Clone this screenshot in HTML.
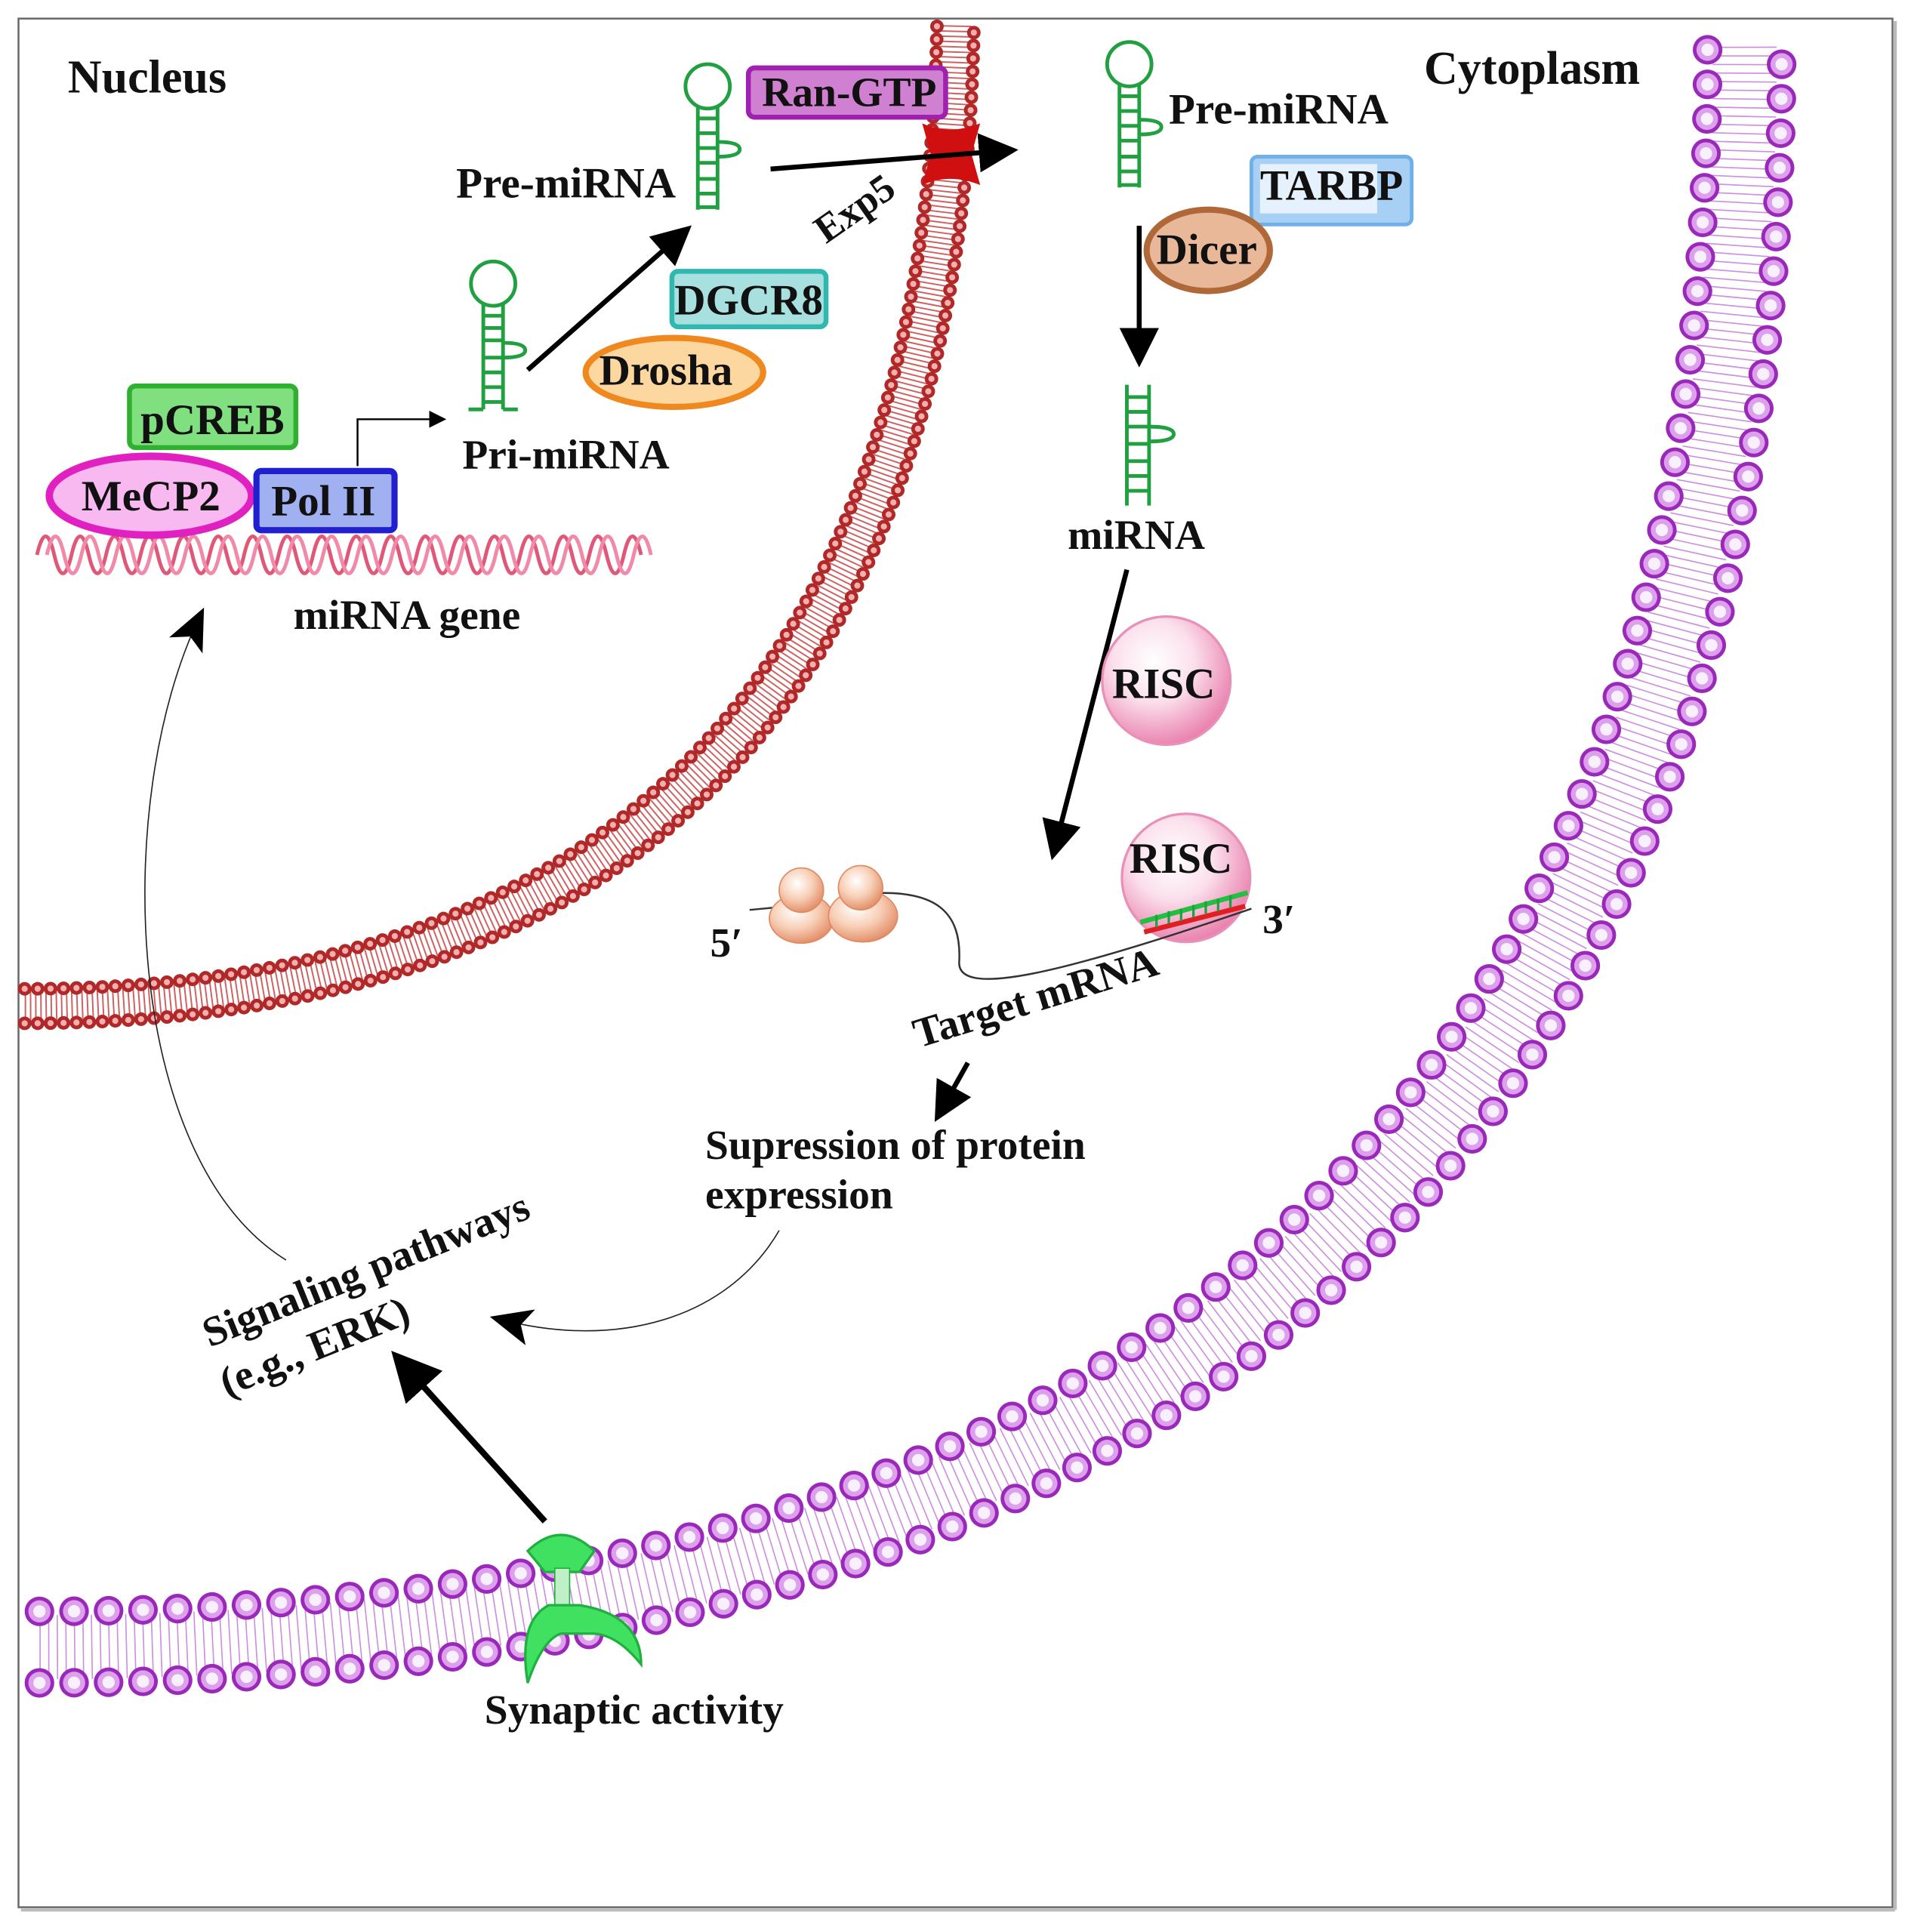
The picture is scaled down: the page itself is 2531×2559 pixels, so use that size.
<!DOCTYPE html>
<html><head><meta charset="utf-8"><style>html,body{margin:0;padding:0;background:#fff}svg{display:block}text{font-family:"Liberation Serif",serif;font-weight:bold;fill:#111}</style></head>
<body>
<svg width="2531" height="2559" viewBox="0 0 1550 1567" xmlns="http://www.w3.org/2000/svg">
<defs>
<marker id="ah" markerWidth="8" markerHeight="8" refX="6" refY="4" orient="auto" markerUnits="strokeWidth"><path d="M0,0 L8,4 L0,8 z" fill="#000"/></marker>
<marker id="ah2" markerWidth="14" markerHeight="14" refX="10" refY="7" orient="auto" markerUnits="userSpaceOnUse"><path d="M0,0 L14,7 L0,14 z" fill="#000"/></marker>
<marker id="ah3" markerWidth="34" markerHeight="30" refX="26" refY="15" orient="auto" markerUnits="userSpaceOnUse"><path d="M0,0 L34,15 L0,30 L8,15 z" fill="#000"/></marker>
<radialGradient id="pink" cx="0.4" cy="0.35" r="0.7"><stop offset="0" stop-color="#fff"/><stop offset="0.45" stop-color="#fbe0ec"/><stop offset="1" stop-color="#e878a8"/></radialGradient>
<radialGradient id="rib" cx="0.4" cy="0.35" r="0.7"><stop offset="0" stop-color="#fff"/><stop offset="0.5" stop-color="#f8d0b8"/><stop offset="1" stop-color="#e08860"/></radialGradient>
</defs>
<rect x="15" y="15" width="1520" height="1532" fill="#fff" stroke="#666" stroke-width="1.5"/>
<line x1="17" y1="1549" x2="1537" y2="1549" stroke="#bbb" stroke-width="3"/>
<line x1="1537" y1="17" x2="1537" y2="1549" stroke="#bbb" stroke-width="3"/>

<!-- nuclear membrane -->
<path d="M20 816 Q760 816 775 20" fill="none" stroke="#d06060" stroke-width="26" stroke-dasharray="1.2 3"/>
<path d="M20 802 Q745 802 760 20" fill="none" stroke="#b02828" stroke-width="11" stroke-linecap="round" stroke-dasharray="0 10.5"/>
<path d="M20 830 Q775 830 790 20" fill="none" stroke="#b02828" stroke-width="11" stroke-linecap="round" stroke-dasharray="0 10.5"/>
<path d="M20 802 Q745 802 760 20" fill="none" stroke="#f4b0b0" stroke-width="5" stroke-linecap="round" stroke-dasharray="0 10.5"/>
<path d="M20 830 Q775 830 790 20" fill="none" stroke="#f4b0b0" stroke-width="5" stroke-linecap="round" stroke-dasharray="0 10.5"/>

<!-- plasma membrane -->
<path d="M32 1336 Q1422 1336 1415 32" fill="none" stroke="#c070d8" stroke-width="52" stroke-dasharray="1 6" opacity="0.8"/>
<path d="M32 1307 Q1390 1307 1385 38" fill="none" stroke="#9a28b8" stroke-width="24" stroke-linecap="round" stroke-dasharray="0 28"/>
<path d="M32 1365 Q1455 1365 1445 28" fill="none" stroke="#9a28b8" stroke-width="24" stroke-linecap="round" stroke-dasharray="0 28"/>
<path d="M32 1307 Q1390 1307 1385 38" fill="none" stroke="#dca0ec" stroke-width="18" stroke-linecap="round" stroke-dasharray="0 28"/>
<path d="M32 1365 Q1455 1365 1445 28" fill="none" stroke="#dca0ec" stroke-width="18" stroke-linecap="round" stroke-dasharray="0 28"/>
<path d="M32 1307 Q1390 1307 1385 38" fill="none" stroke="#f8f0fc" stroke-width="10" stroke-linecap="round" stroke-dasharray="0 28"/>
<path d="M32 1365 Q1455 1365 1445 28" fill="none" stroke="#f8f0fc" stroke-width="10" stroke-linecap="round" stroke-dasharray="0 28"/>

<text x="55" y="75" font-size="38">Nucleus</text>
<text x="1155" y="68" font-size="38">Cytoplasm</text>

<!-- DNA helix -->
<path d="M30 450 q7 -30 14 0 t14 0 t14 0 t14 0 t14 0 t14 0 t14 0 t14 0 t14 0 t14 0 t14 0 t14 0 t14 0 t14 0 t14 0 t14 0 t14 0 t14 0 t14 0 t14 0 t14 0 t14 0 t14 0 t14 0 t14 0 t14 0 t14 0 t14 0 t14 0 t14 0 t14 0 t14 0 t14 0 t14 0 t14 0" fill="none" stroke="#e05878" stroke-width="3"/>
<path d="M38 450 q7 -30 14 0 t14 0 t14 0 t14 0 t14 0 t14 0 t14 0 t14 0 t14 0 t14 0 t14 0 t14 0 t14 0 t14 0 t14 0 t14 0 t14 0 t14 0 t14 0 t14 0 t14 0 t14 0 t14 0 t14 0 t14 0 t14 0 t14 0 t14 0 t14 0 t14 0 t14 0 t14 0 t14 0 t14 0 t14 0" fill="none" stroke="#f08aa8" stroke-width="3"/>
<text x="238" y="510" font-size="34">miRNA gene</text>

<rect x="105" y="313" width="135" height="50" rx="5" fill="#80e080" stroke="#30b030" stroke-width="4"/>
<text x="114" y="352" font-size="35">pCREB</text>
<ellipse cx="122" cy="402" rx="82" ry="32" fill="#f8b8f0" stroke="#e020c0" stroke-width="6"/>
<text x="66" y="414" font-size="35">MeCP2</text>
<rect x="208" y="382" width="112" height="48" rx="4" fill="#a0b0f0" stroke="#2020d0" stroke-width="5"/>
<text x="220" y="418" font-size="35">Pol II</text>
<path d="M290 378 V340 H358" fill="none" stroke="#000" stroke-width="1.5" marker-end="url(#ah2)"/>

<g fill="none" stroke="#20a040" stroke-width="3">
<circle cx="400" cy="230" r="18"/><line x1="392" y1="246" x2="392" y2="332"/><line x1="408" y1="246" x2="408" y2="332"/>
<path d="M392 256h16M392 266h16M392 276h16M392 290h16M392 302h16M392 314h16M392 326h16"/>
<path d="M408 278 q18 0 18 6 q0 6 -18 6"/>
<line x1="380" y1="332" x2="392" y2="332"/><line x1="408" y1="332" x2="420" y2="332"/>
</g>
<text x="375" y="380" font-size="34">Pri-miRNA</text>
<line x1="428" y1="300" x2="555" y2="188" stroke="#000" stroke-width="4" marker-end="url(#ah)"/>
<rect x="545" y="220" width="125" height="45" rx="5" fill="#a8e0e0" stroke="#30b8b0" stroke-width="4"/>
<text x="547" y="255" font-size="35">DGCR8</text>
<ellipse cx="547" cy="302" rx="72" ry="28" fill="#fcd8a0" stroke="#f08820" stroke-width="5"/>
<text x="486" y="312" font-size="35">Drosha</text>

<g fill="none" stroke="#20a040" stroke-width="3">
<circle cx="574" cy="70" r="18"/><line x1="566" y1="86" x2="566" y2="170"/><line x1="582" y1="86" x2="582" y2="170"/>
<path d="M566 96h16M566 108h16M566 120h16M566 132h16M566 145h16M566 157h16M566 168h16"/>
<path d="M582 115 q18 0 18 6 q0 6 -18 6"/>
</g>
<text x="370" y="160" font-size="35">Pre-miRNA</text>
<rect x="607" y="55" width="160" height="40" rx="5" fill="#d080d0" stroke="#a020b0" stroke-width="4"/>
<text x="618" y="86" font-size="34">Ran-GTP</text>
<path d="M748 100 Q770 110 795 100 L788 125 L795 150 Q770 140 748 150 L755 125 Z" fill="#d01010"/>
<line x1="625" y1="137" x2="818" y2="122" stroke="#000" stroke-width="4" marker-end="url(#ah)"/>
<text x="670" y="198" font-size="32" transform="rotate(-35 670 198)">Exp5</text>

<g fill="none" stroke="#20a040" stroke-width="3">
<circle cx="916" cy="52" r="18"/><line x1="908" y1="68" x2="908" y2="152"/><line x1="924" y1="68" x2="924" y2="152"/>
<path d="M908 78h16M908 90h16M908 102h16M908 114h16M908 127h16M908 139h16M908 150h16"/>
<path d="M924 97 q18 0 18 6 q0 6 -18 6"/>
</g>
<text x="948" y="100" font-size="35">Pre-miRNA</text>
<rect x="1015" y="127" width="130" height="55" rx="5" fill="#a8d0f4" stroke="#70b0e8" stroke-width="3"/>
<rect x="1022" y="133" width="95" height="40" fill="#fff" opacity="0.7"/>
<text x="1022" y="162" font-size="35">TARBP</text>
<ellipse cx="980" cy="203" rx="50" ry="33" fill="#e8b898" stroke="#b06838" stroke-width="5"/>
<text x="938" y="214" font-size="35">Dicer</text>
<line x1="924" y1="183" x2="924" y2="290" stroke="#000" stroke-width="4" marker-end="url(#ah)"/>

<g fill="none" stroke="#20a040" stroke-width="3">
<line x1="914" y1="312" x2="914" y2="410"/><line x1="932" y1="312" x2="932" y2="410"/>
<path d="M914 322h18M914 334h18M914 346h18M914 360h18M914 374h18M914 386h18M914 398h18"/>
<path d="M932 346 q20 0 20 6 q0 6 -20 6"/>
</g>
<text x="866" y="445" font-size="34">miRNA</text>
<line x1="914" y1="462" x2="855" y2="690" stroke="#000" stroke-width="4" marker-end="url(#ah)"/>

<circle cx="946" cy="552" r="52" fill="url(#pink)" stroke="#e890b8" stroke-width="2"/>
<text x="902" y="566" font-size="35">RISC</text>
<circle cx="962" cy="712" r="52" fill="url(#pink)" stroke="#e890b8" stroke-width="2"/>
<text x="916" y="708" font-size="35">RISC</text>

<path d="M608 738 L640 735 M700 725 C760 720 780 740 778 780 C776 810 860 790 1015 737" fill="none" stroke="#333" stroke-width="1.5"/>
<path d="M925 748 L1012 724" stroke="#20c040" stroke-width="4"/>
<path d="M928 756 L1010 735" stroke="#e02020" stroke-width="4"/>
<path d="M938 742v10M948 739v10M958 737v10M968 734v10M978 731v10M988 729v10M998 726v10" stroke="#20a040" stroke-width="2"/>
<text x="576" y="776" font-size="34">5′</text>
<text x="1024" y="757" font-size="34">3′</text>
<ellipse cx="650" cy="745" rx="26" ry="20" fill="url(#rib)" stroke="#e08860"/>
<circle cx="650" cy="722" r="18" fill="url(#rib)" stroke="#e08860"/>
<ellipse cx="700" cy="743" rx="28" ry="21" fill="url(#rib)" stroke="#e08860"/>
<circle cx="698" cy="720" r="18" fill="url(#rib)" stroke="#e08860"/>
<text x="745" y="850" font-size="34" transform="rotate(-17 745 850)">Target mRNA</text>
<line x1="785" y1="862" x2="762" y2="903" stroke="#000" stroke-width="4" marker-end="url(#ah)"/>
<text x="572" y="940" font-size="34">Supression of protein</text>
<text x="572" y="980" font-size="34">expression</text>

<path d="M632 998 C590 1070 500 1095 405 1070" fill="none" stroke="#222" stroke-width="1" marker-end="url(#ah3)"/>
<text x="170" y="1093" font-size="34" transform="rotate(-22 170 1093)">Signaling pathways</text>
<text x="184" y="1133" font-size="34" transform="rotate(-22 184 1133)">(e.g., ERK)</text>
<path d="M232 1022 C100 940 90 650 162 500" fill="none" stroke="#222" stroke-width="1" marker-end="url(#ah3)"/>
<line x1="442" y1="1234" x2="324" y2="1103" stroke="#000" stroke-width="5" marker-end="url(#ah)"/>

<path d="M428 1258 Q455 1232 482 1258 L470 1275 L442 1275 Z" fill="#40e060" stroke="#20b040" stroke-width="2"/>
<rect x="450" y="1272" width="12" height="36" fill="#c0f0c8" stroke="#20b040"/>
<path d="M428 1365 Q420 1315 445 1302 H470 Q520 1310 520 1350 Q500 1325 480 1325 H455 Q440 1330 428 1365 Z" fill="#40e060" stroke="#20b040" stroke-width="2"/>
<text x="393" y="1398" font-size="34">Synaptic activity</text>
</svg>
</body></html>
